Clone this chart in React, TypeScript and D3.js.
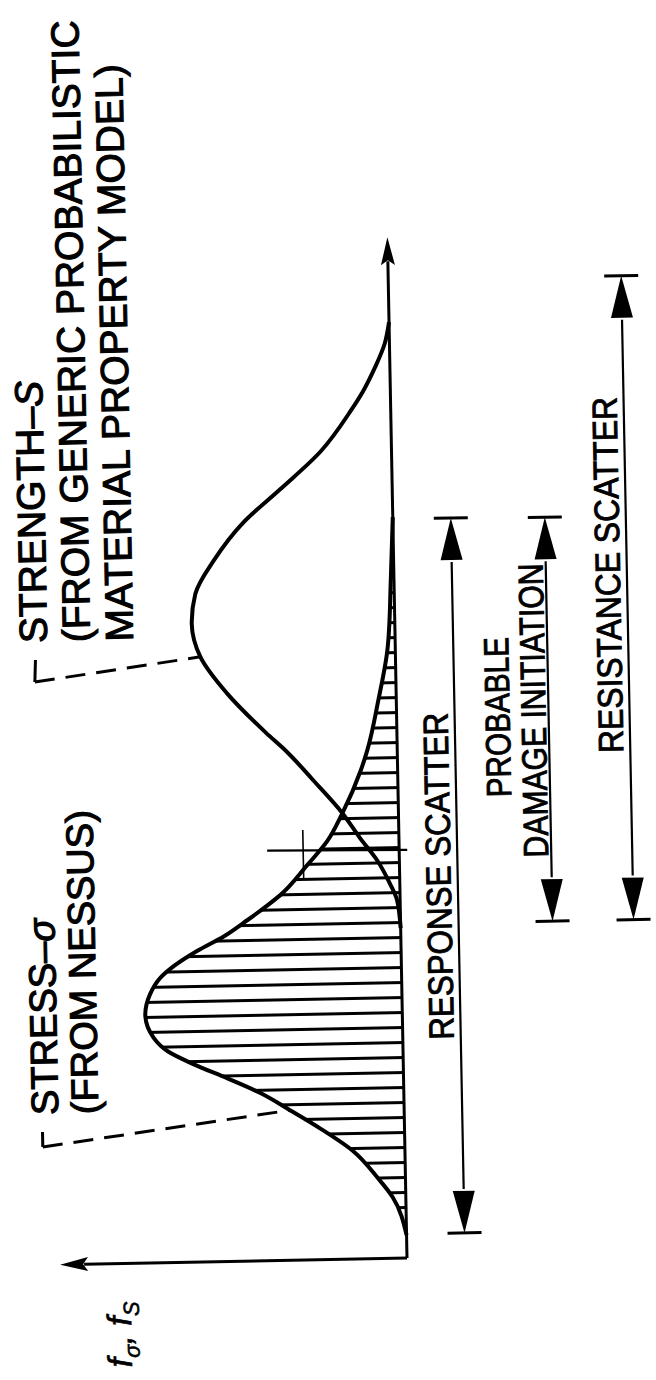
import React from "react";
import * as d3 from "d3";

// stress density (response), x in arbitrary stress units, f scaled so the peak is 1
const stressX = [2.3, 6.1, 8.1, 10.8, 13.1, 15.0, 16.8, 18.3, 19.8, 21.1, 22.5, 24.8, 26.8, 28.5, 29.6, 31.1, 32.5, 34.1, 35.5, 36.5, 39.5, 41.8, 44.6, 48.8, 50.8, 55.8, 60.8, 68.0, 74.1];
const stressF = [0, 0.051, 0.109, 0.202, 0.327, 0.444, 0.56, 0.685, 0.817, 0.914, 0.969, 1.0, 0.981, 0.938, 0.887, 0.794, 0.689, 0.595, 0.518, 0.467, 0.358, 0.28, 0.218, 0.144, 0.117, 0.07, 0.031, 0.012, 0];

// strength density (resistance)
const strengthX = [33.0, 35.8, 37.5, 39.8, 42.1, 44.6, 48.0, 50.8, 52.8, 56.8, 60.5, 63.8, 66.8, 70.1, 73.8, 77.1, 80.8, 84.8, 86.8, 89.1, 91.5, 93.6];
const strengthF = [0, 0.012, 0.039, 0.086, 0.152, 0.218, 0.331, 0.428, 0.51, 0.658, 0.759, 0.79, 0.774, 0.7, 0.584, 0.436, 0.276, 0.156, 0.105, 0.058, 0.018, 0];

// scatter bands under the axis
const spanNames = ["RESPONSE SCATTER", "PROBABLE|DAMAGE INITIATION", "RESISTANCE SCATTER"];
const spanFrom = [2.4, 33.4, 33.4];
const spanTo = [73.9, 73.8, 97.8];

const stressLabel = ["STRESS–", "(FROM NESSUS)"];
const strengthLabel = ["STRENGTH–", "(FROM GENERIC PROBABILISTIC", "MATERIAL PROPERTY MODEL)"];

const crossX = 40.8;

const W = 656;
const H = 1380;
const ORIGIN: [number, number] = [407, 1258];
const TILT = -91.1;
const FONT = "'Liberation Sans', Arial, Helvetica, sans-serif";

type Pt = [number, number];

const App: React.FC = () => {
  const x = d3.scaleLinear().domain([0, 100]).range([0, 1000]);
  const y = d3.scaleLinear().domain([0, 1]).range([0, -257]);

  const stress: Pt[] = stressX.map((d, i) => [d, stressF[i]]);
  const strength: Pt[] = strengthX.map((d, i) => [d, strengthF[i]]);

  const line = d3
    .line<Pt>()
    .x(d => x(d[0]))
    .y(d => y(d[1]))
    .curve(d3.curveMonotoneX);

  const area = d3
    .area<Pt>()
    .x(d => x(d[0]))
    .y0(y(0))
    .y1(d => y(d[1]))
    .curve(d3.curveMonotoneX);

  const xEnd = x(102.1);
  const fEnd = y(1.35);

  const rowY = [58, 152, 233];
  const labelAt = [
    [{ u: 381, b: 51, len: 327 }],
    [{ u: 539, b: 113, len: 160 }, { u: 545, b: 149, len: 294 }],
    [{ u: 679, b: 226, len: 356 }],
  ];

  const stressAnchor = stress[5];
  const strengthAnchor = strength[10];

  const textStyle: React.CSSProperties = { fontFamily: FONT };

  return (
    <div style={{ position: "absolute", left: 0, top: 0 }}>
      <svg width={W} height={H} viewBox={`0 0 ${W} ${H}`} style={{ display: "block", background: "#fff" }}>
        <defs>
          <pattern id="hatch" patternUnits="userSpaceOnUse" x={4} y={0} width={15} height={400}>
            <rect x={0} y={0} width={3} height={400} fill="#000" />
          </pattern>
        </defs>
        <g transform={`translate(${ORIGIN[0]},${ORIGIN[1]}) rotate(${TILT})`}>
          {/* hatched stress area */}
          <path d={area(stress) || ""} fill="url(#hatch)" />
          <path d={line(stress) || ""} fill="none" stroke="#000" strokeWidth={4} strokeLinejoin="round" />
          <path d={line(strength) || ""} fill="none" stroke="#000" strokeWidth={4} strokeLinejoin="round" />

          {/* axes */}
          <path d={`M0,0 L${xEnd - 24},0`} stroke="#000" strokeWidth={3} fill="none" />
          <path d={`M0,0 L0,${fEnd + 24}`} stroke="#000" strokeWidth={3} fill="none" />
          <path d={`M${xEnd},0 L${xEnd - 28},-7 L${xEnd - 23},0 L${xEnd - 28},7 Z`} fill="#000" />
          <path d={`M0,${fEnd} L-7,${fEnd + 28} L0,${fEnd + 23} L7,${fEnd + 28} Z`} fill="#000" />

          {/* intersection marker */}
          <line x1={x(crossX)} y1={8} x2={x(crossX) + 2} y2={-132} stroke="#000" strokeWidth={2.4} />
          <line x1={382} y1={-96} x2={430} y2={-96} stroke="#000" strokeWidth={1.6} />

          {/* leaders */}
          <path d={`M133,-362 L118,-362`} stroke="#000" strokeWidth={3} fill="none" />
          <path
            d={`M118,-362 L${x(stressAnchor[0])},${y(stressAnchor[1])}`}
            stroke="#000"
            strokeWidth={3}
            strokeDasharray="20 11"
            fill="none"
          />
          <path d={`M605,-360 L583,-361`} stroke="#000" strokeWidth={3} fill="none" />
          <path
            d={`M583,-361 L${x(strengthAnchor[0])},${y(strengthAnchor[1])}`}
            stroke="#000"
            strokeWidth={3}
            strokeDasharray="20 11"
            fill="none"
          />

          {/* curve labels */}
          <text x={150} y={-346} fontSize={38} style={textStyle} stroke="#000" strokeWidth={1.1}>
            {stressLabel[0]}
            <tspan fontStyle="italic">σ</tspan>
          </text>
          <text x={150} y={-306} fontSize={38} style={textStyle} stroke="#000" strokeWidth={1.1}>
            {stressLabel[1]}
          </text>
          <text x={622} y={-348} fontSize={39} style={textStyle} stroke="#000" strokeWidth={1.1}>
            {strengthLabel[0]}
            <tspan fontStyle="italic">S</tspan>
          </text>
          <text x={622} y={-305} fontSize={39} style={textStyle} stroke="#000" strokeWidth={1.1}>
            {strengthLabel[1]}
          </text>
          <text x={622} y={-262} fontSize={39} style={textStyle} stroke="#000" strokeWidth={1.1}>
            {strengthLabel[2]}
          </text>

          {/* axis label */}
          <text x={-104} y={-277} fontSize={34} style={textStyle} fontStyle="italic" stroke="#000" strokeWidth={0.6}>
            f
            <tspan fontSize={22} dy={8}>σ</tspan>
            <tspan dy={-8}>, f</tspan>
            <tspan fontSize={22} dy={8}>S</tspan>
          </text>

          {/* scatter bands */}
          {spanNames.map((name, i) => {
            const a = x(spanFrom[i]);
            const b = x(spanTo[i]);
            const yy = rowY[i];
            const parts = name.split("|");
            return (
              <g key={name}>
                <line x1={a} x2={a} y1={yy - 17} y2={yy + 17} stroke="#000" strokeWidth={3} />
                <line x1={b} x2={b} y1={yy - 17} y2={yy + 17} stroke="#000" strokeWidth={3} />
                <path d={`M${a},${yy} L${a + 42},${yy - 11} L${a + 42},${yy + 11} Z`} fill="#000" />
                <path d={`M${b},${yy} L${b - 42},${yy - 11} L${b - 42},${yy + 11} Z`} fill="#000" />
                <line x1={a + 44} x2={b - 44} y1={yy} y2={yy} stroke="#000" strokeWidth={2.2} />
                {parts.map((p, j) => (
                  <text
                    key={p}
                    x={labelAt[i][j].u}
                    y={labelAt[i][j].b}
                    textAnchor="middle"
                    fontSize={35}
                    textLength={labelAt[i][j].len}
                    lengthAdjust="spacingAndGlyphs"
                    style={textStyle}
                    stroke="#000"
                    strokeWidth={0.9}
                  >
                    {p}
                  </text>
                ))}
              </g>
            );
          })}
        </g>
      </svg>
    </div>
  );
};

export default App;
